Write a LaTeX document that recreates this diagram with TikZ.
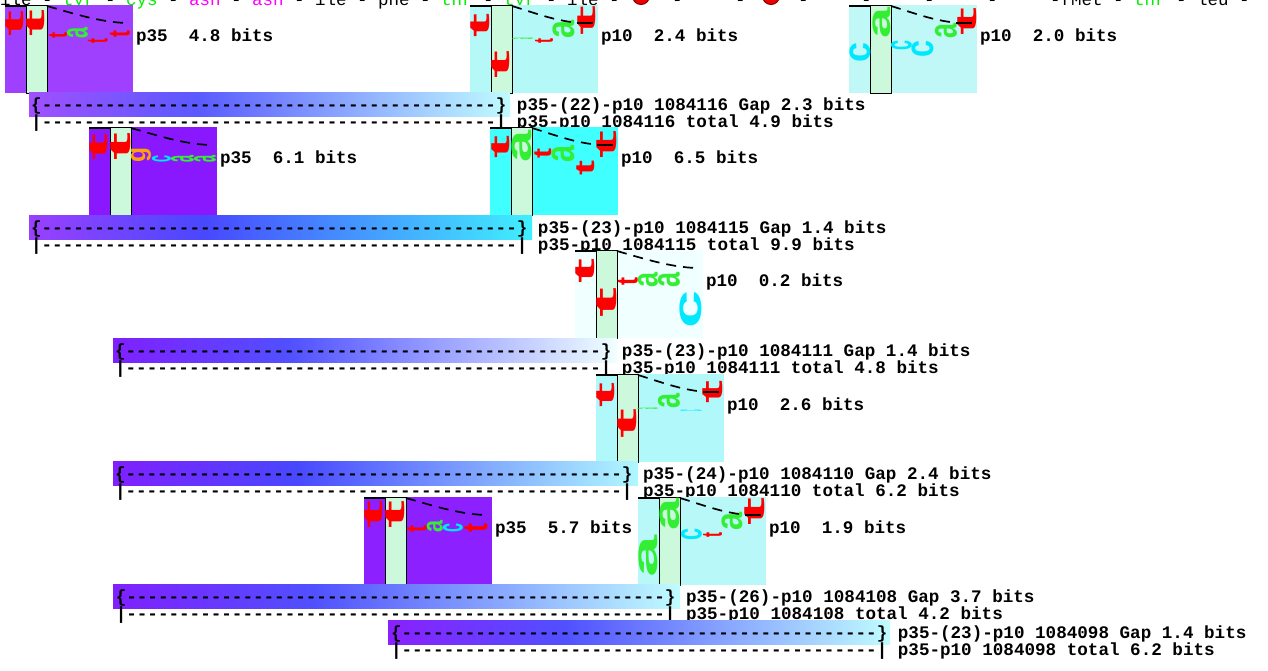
\documentclass[tikz,border=0pt]{standalone}
\usepackage{fontspec}
\usepackage{graphicx}
\setmonofont{Liberation Mono}
\newfontfamily\lgfont{Liberation Sans}

\definecolor{mint}{HTML}{CCF8DC}
\definecolor{lgred}{HTML}{FF0000}
\definecolor{lggreen}{HTML}{33EE33}
\definecolor{lgcyan}{HTML}{00E8FF}
\definecolor{lgorange}{HTML}{FFA500}
\definecolor{aamag}{HTML}{FF00FF}
\definecolor{aagreen}{HTML}{00EE00}
\definecolor{stopred}{HTML}{EE0000}
\definecolor{stopdark}{HTML}{800000}

\newcommand\monob{\fontsize{17.6}{20}\selectfont\ttfamily\bfseries}
\newcommand\monor{\fontsize{17.5}{20}\selectfont\ttfamily}

\newcount\dcnt
\newcommand\dashrun[1]{\dcnt=#1\relax\loop\ifnum\dcnt>0 -\kern0pt\advance\dcnt by -1\relax\repeat}

\tikzset{
  lab/.style={font=\monob, anchor=base west, inner sep=0pt, outer sep=0pt},
  toprow/.style={font=\monor, anchor=base west, inner sep=0pt, outer sep=0pt},
  logobg/.style={anchor=north west, inner sep=0pt, outer sep=0pt, minimum width=128pt, minimum height=88pt, draw=none},
  colbox/.style={anchor=north west, inner sep=0pt, outer sep=0pt, minimum width=21pt, minimum height=88pt, fill=mint, draw=black, line width=1pt},
  glyph/.style={inner sep=0pt, outer sep=0pt},
  curvedash/.style={draw=black, line width=1.7pt, dash pattern=on 10pt off 7pt},
  tickline/.style={draw=black, line width=1.5pt},
  stopsign/.style={circle, fill=stopred, draw=stopdark, line width=1pt, minimum size=17pt, inner sep=0pt},
}

\newcount\glc
\newcommand\gl[6]{%
  \pgfmathsetmacro\glw{#3-#1}%
  \pgfmathsetmacro\glh{#4-#2}%
  \global\advance\glc by 1\relax
  \edef\glname{gl\the\glc}%
  \node[glyph, text=#5] (\glname) at ({(#1+#3)/2},{(#2+#4)/2}) {\resizebox{\glw pt}{\glh pt}{\rotatebox{90}{\lgfont\bfseries #6}}};%
}

\newcommand\logostart[4]{%
  \definecolor{bg#1}{HTML}{#4}%
  \node[logobg, fill=bg#1] (#1) at (#2,#3) {};
  \node[colbox] (#1col) at (#2+21,#3) {};
}
\newcommand\logoend[5]{%
  \draw[tickline] (#2,#3+1) -- (#2+21,#3+1);
  \ifnum#5=1
    \draw[curvedash] (#2+42,#3+1) .. controls (#2+65,#3+8) and (#2+85,#3+16) .. (#2+110,#3+18);
    \draw[tickline] (#2+107,#3+18) -- (#2+123,#3+18);
  \else
    \draw[curvedash] (#2+42,#3+1) .. controls (#2+70,#3+9) and (#2+95,#3+17) .. (#2+121,#3+18);
  \fi
  \node[lab] (#1lab) at (#2+131,#3+36) {#4};
}

\newcommand\gbar[7]{% name x0 x1 top L M R
  \definecolor{#1L}{HTML}{#5}\definecolor{#1M}{HTML}{#6}\definecolor{#1R}{HTML}{#7}%
  \path[left color=#1L, right color=#1M] (#2,#4) rectangle ({#2+0.35*(#3-#2)+0.5},#4+24);
  \path[left color=#1M, right color=#1R] ({#2+0.35*(#3-#2)},#4) rectangle (#3,#4+24);
  \coordinate (#1) at (#2,#4);
}

\begin{document}
\begin{tikzpicture}[x=1pt, y=-1pt]
\useasboundingbox (0,0) rectangle (1268,670);
\fill[white] (0,0) rectangle (1268,670);

% top row of residues
\node[toprow] (toprow) at (0,5) {ile - {\color{aagreen}tyr} - {\color{aagreen}cys} - {\color{aamag}asn} - {\color{aamag}asn} - ile - phe - {\color{aagreen}thr} - {\color{aagreen}tyr} - ile - \phantom{xxx} - \phantom{xxx} - \phantom{xxx} - \phantom{xxx} - \phantom{xxx} - \phantom{xxx} - \phantom{xxx} -fMet - {\color{aagreen}thr} - leu -};
\node[stopsign] (stop1) at (641,-4) {};
\node[stopsign] (stop2) at (771,-4) {};

% ---------- logo 1 (p35 4.8) ----------
\logostart{L1}{5}{5}{A040FF}
\gl{6}{10}{24}{36}{lgred}{t}
\gl{27}{9}{45}{36}{lgred}{t}
\gl{49}{32}{67}{38}{lgred}{t}
\gl{67}{27}{88}{38}{lggreen}{a}
\gl{88}{38}{108}{43}{lgred}{t}
\gl{110}{30}{130}{37}{lgred}{t}
\logoend{L1}{5}{5}{p35\ \ 4.8 bits}{0}

% ---------- logo 2 (p10 2.4) ----------
\logostart{L2}{470}{5}{B4F8F8}
\gl{471}{13}{490}{37}{lgred}{t}
\gl{492}{50}{510}{78}{lgred}{t}
\gl{512}{37.5}{533}{39}{lggreen}{a}
\gl{535}{38}{553}{43}{lgred}{t}
\gl{553}{20}{575}{38}{lggreen}{a}
\gl{578}{5}{596}{35}{lgred}{t}
\logoend{L2}{470}{5}{p10\ \ 2.4 bits}{1}

% ---------- logo 3 (p10 2.0) ----------
\logostart{L3}{849}{5}{C0F8F8}
\gl{850}{42}{871}{62}{lgcyan}{c}
\gl{873}{7}{891}{38}{lggreen}{a}
\gl{891}{40}{912}{50}{lgcyan}{c}
\gl{912}{40}{934}{57}{lgcyan}{c}
\gl{935}{23}{957}{38}{lggreen}{a}
\gl{958}{7}{977}{35}{lgred}{t}
\logoend{L3}{849}{5}{p10\ \ 2.0 bits}{1}

% ---------- bar 1 ----------
\gbar{B1}{29}{510}{92}{A050FF}{5A5AFF}{C0FCFF}
\node[lab] (B1a) at (31.2,110) {\{\dashrun{43}\} p35-(22)-p10 1084116 Gap 2.3 bits};
\node[lab] (B1b) at (31.2,127.5) {|\dashrun{43}| p35-p10 1084116 total 4.9 bits};

% ---------- logo 4 (p35 6.1) ----------
\logostart{L4}{89}{127}{8A18FF}
\gl{90}{133}{108}{160}{lgred}{t}
\gl{111}{132}{131}{160}{lgred}{t}
\gl{131}{147}{151}{162}{lgorange}{g}
\gl{152}{155}{171}{162}{lgcyan}{c}
\gl{171}{155}{194}{162}{lggreen}{a}
\gl{194}{155}{216}{162}{lggreen}{a}
\logoend{L4}{89}{127}{p35\ \ 6.1 bits}{0}

% ---------- logo 5 (p10 6.5) ----------
\logostart{L5}{490}{127}{40FFFF}
\gl{492}{135}{510}{158}{lgred}{t}
\gl{512}{130}{532}{162}{lggreen}{a}
\gl{535}{148}{552}{158}{lgred}{t}
\gl{552}{145}{575}{162}{lggreen}{a}
\gl{577}{160}{595}{175}{lgred}{t}
\gl{597}{130}{617}{158}{lgred}{t}
\logoend{L5}{490}{127}{p10\ \ 6.5 bits}{1}

% ---------- bar 2 ----------
\gbar{B2}{29}{532}{215}{9A40FF}{4848FF}{40F0FF}
\node[lab] (B2a) at (31.1,233) {\{\dashrun{45}\} p35-(23)-p10 1084115 Gap 1.4 bits};
\node[lab] (B2b) at (31.1,250.5) {|\dashrun{45}| p35-p10 1084115 total 9.9 bits};

% ---------- logo 6 (p10 0.2) ----------
\logostart{L6}{575}{250}{F0FFFF}
\gl{576}{258}{595}{283}{lgred}{t}
\gl{597}{287}{617}{317}{lgred}{t}
\gl{618}{277}{638}{285}{lgred}{t}
\gl{638}{272}{658}{287}{lggreen}{a}
\gl{658}{272}{680}{287}{lggreen}{a}
\gl{680}{290}{702}{328}{lgcyan}{c}
\logoend{L6}{575}{250}{p10\ \ 0.2 bits}{0}

% ---------- bar 3 ----------
\gbar{B3}{113}{617}{338}{8020FF}{5050FF}{F0FFFF}
\node[lab] (B3a) at (115.1,356) {\{\dashrun{45}\} p35-(23)-p10 1084111 Gap 1.4 bits};
\node[lab] (B3b) at (115.1,373.5) {|\dashrun{45}| p35-p10 1084111 total 4.8 bits};

% ---------- logo 7 (p10 2.6) ----------
\logostart{L7}{596}{374}{B0F8FA}
\gl{597}{382}{615}{407}{lgred}{t}
\gl{618}{408}{637}{438}{lgred}{t}
\gl{637}{407.5}{658}{409}{lggreen}{a}
\gl{658}{393}{680}{408}{lggreen}{a}
\gl{680}{409.5}{702}{411}{lgcyan}{c}
\gl{703}{380}{723}{403}{lgred}{t}
\logoend{L7}{596}{374}{p10\ \ 2.6 bits}{1}

% ---------- bar 4 ----------
\gbar{B4}{113}{638}{461}{8020FF}{4848FF}{B0F8FF}
\node[lab] (B4a) at (115,479) {\{\dashrun{47}\} p35-(24)-p10 1084110 Gap 2.4 bits};
\node[lab] (B4b) at (115,496.5) {|\dashrun{47}| p35-p10 1084110 total 6.2 bits};

% ---------- logo 8 (p35 5.7) ----------
\logostart{L8}{364}{497}{8C20FF}
\gl{365}{500}{383}{528}{lgred}{t}
\gl{386}{500}{405}{528}{lgred}{t}
\gl{407}{525}{427}{532}{lgred}{t}
\gl{427}{520}{443}{532}{lggreen}{a}
\gl{443}{523}{463}{532}{lgcyan}{c}
\gl{465}{523}{488}{532}{lgred}{t}
\logoend{L8}{364}{497}{p35\ \ 5.7 bits}{0}

% ---------- logo 9 (p10 1.9) ----------
\logostart{L9}{638}{497}{B8F8F8}
\gl{639}{535}{658}{577}{lggreen}{a}
\gl{660}{498}{680}{530}{lggreen}{a}
\gl{681}{528}{702}{540}{lgcyan}{c}
\gl{703}{532}{722}{537}{lgred}{t}
\gl{722}{512}{743}{530}{lggreen}{a}
\gl{745}{497}{765}{525}{lgred}{t}
\logoend{L9}{638}{497}{p10\ \ 1.9 bits}{1}

% ---------- bar 5 ----------
\gbar{B5}{113}{680}{584}{8020FF}{5050FF}{C0FCFF}
\node[lab] (B5a) at (115.8,602) {\{\dashrun{51}\} p35-(26)-p10 1084108 Gap 3.7 bits};
\node[lab] (B5b) at (115.8,619.5) {|\dashrun{51}| p35-p10 1084108 total 4.2 bits};

% ---------- bar 6 ----------
\gbar{B6}{388}{890}{620}{8A20FF}{5050FF}{C0FCFF}
\node[lab] (B6a) at (391,638) {\{\dashrun{45}\} p35-(23)-p10 1084098 Gap 1.4 bits};
\node[lab] (B6b) at (391,655.5) {|\dashrun{45}| p35-p10 1084098 total 6.2 bits};
\end{tikzpicture}
\end{document}
